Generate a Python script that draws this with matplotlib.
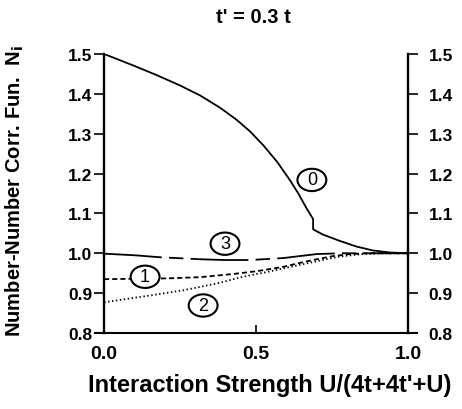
import matplotlib
matplotlib.use("Agg")
import matplotlib.pyplot as plt
from matplotlib.patches import Ellipse

plt.rcParams['font.family'] = ['Liberation Sans', 'DejaVu Sans']
plt.rcParams['font.weight'] = 'bold'

# curve 0 (solid)
x0 = [0.0, 0.05, 0.1, 0.173, 0.25, 0.316, 0.38, 0.436, 0.48, 0.524, 0.57, 0.612, 0.64, 0.667, 0.688,
      0.688, 0.72, 0.776, 0.83, 0.885, 0.94, 1.0]
y0 = [1.5, 1.485, 1.470, 1.447, 1.421, 1.396, 1.366, 1.335, 1.306, 1.271, 1.229, 1.183, 1.149, 1.112, 1.086,
      1.060, 1.047, 1.031, 1.017, 1.007, 1.002, 1.0]
# curve 1 (short dashes)
x1 = [0.0, 0.1, 0.206, 0.316, 0.425, 0.502, 0.59, 0.645, 0.70, 0.754, 0.81, 0.864, 1.0]
y1 = [0.935, 0.936, 0.937, 0.940, 0.948, 0.955, 0.966, 0.976, 0.985, 0.993, 0.998, 1.0, 1.0]
# curve 2 (dotted)
x2 = [0.0, 0.151, 0.26, 0.37, 0.457, 0.53, 0.59, 0.70, 0.776, 0.85, 0.92, 1.0]
y2 = [0.877, 0.894, 0.907, 0.924, 0.941, 0.952, 0.962, 0.980, 0.992, 0.998, 1.0, 1.0]
# curve 3 (long dashes)
x3 = [0.0, 0.1, 0.184, 0.316, 0.4, 0.48, 0.59, 0.70, 0.78, 0.886, 1.0]
y3 = [0.999, 0.995, 0.990, 0.985, 0.983, 0.983, 0.988, 0.998, 1.0, 1.0, 1.0]

labels = ['0', '1', '2', '3']
label_x = [0.684, 0.135, 0.326, 0.398]
label_y = [1.184, 0.941, 0.869, 1.024]

xticks = [0.0, 0.5, 1.0]
yticks = [0.8, 0.9, 1.0, 1.1, 1.2, 1.3, 1.4, 1.5]

fig = plt.figure(figsize=(4.62, 4.10), dpi=100)
ax = fig.add_axes([0.2056, 0.1854, 0.697, 0.6805])

ax.plot(x0, y0, color='black', lw=1.3)
ax.plot(x1, y1, color='black', lw=1.3, linestyle=(0, (2.8, 1.7)))
ax.plot(x2, y2, color='black', lw=1.3, linestyle=(0, (0.8, 1.4)))
ax.plot(x3, y3, color='black', lw=1.3, linestyle=(0, (32, 4, 8, 4)))

# circled curve numbers
for lab, lx, ly in zip(labels, label_x, label_y):
    ax.add_patch(Ellipse((lx, ly), 0.095, 0.056, fc='white', ec='black', lw=1.5, zorder=3))
    ax.text(lx, ly, lab, ha='center', va='center', fontsize=13, fontweight='normal', zorder=4)

ax.set_xlim(-0.03, 1.03)
ax.set_ylim(0.8, 1.5)
ax.spines['top'].set_visible(False)
ax.spines['right'].set_visible(False)
ax.spines['left'].set_position(('data', 0))
ax.spines['left'].set_linewidth(1.7)
ax.spines['bottom'].set_linewidth(1.5)

ax.set_xticks(xticks)
ax.set_xticklabels(['0.0', '0.5', '1.0'])
ax.set_yticks(yticks)
ax.set_yticklabels(['%.1f' % v for v in yticks])
ax.tick_params(axis='y', direction='out', length=7, width=1.2, labelsize=12.5, pad=1.5)
ax.tick_params(axis='x', direction='in', length=6, width=1.2, labelsize=14, pad=9)

# right-hand axis
ax2 = ax.twinx()
ax2.set_ylim(0.8, 1.5)
for s in ['top', 'left', 'bottom']:
    ax2.spines[s].set_visible(False)
ax2.spines['right'].set_position(('data', 1))
ax2.spines['right'].set_linewidth(1.7)
ax2.set_yticks(yticks)
ax2.set_yticklabels(['%.1f' % v for v in yticks])
ax2.tick_params(axis='y', direction='out', length=7, width=1.2, labelsize=12.5, pad=8)

ax.text(0.492, 1.135, "t' = 0.3 t", transform=ax.transAxes, ha='center', va='center',
        fontsize=14.5, fontweight='bold')
ax.set_xlabel("Interaction Strength U/(4t+4t'+U)", fontsize=17, fontweight='bold')
ax.xaxis.set_label_coords(0.543, -0.183)
ax.set_ylabel(r"Number-Number Corr. Fun.  N$_\mathbf{i}$", fontsize=14.5, fontweight='bold')
ax.yaxis.set_label_coords(-0.248, 0.513)
ax.yaxis.label.set_va('center')
ax.xaxis.label.set_va('center')

fig.savefig('out.png', dpi=100)
